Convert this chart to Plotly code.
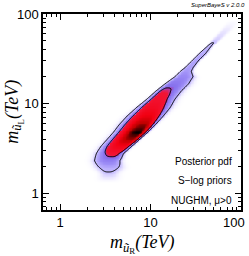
import numpy as np
import plotly.graph_objects as go

# ---- data (log10 of TeV) ----
# rows along the band: log10(m_uL), outer-contour left/right edge in log10(m_uR),
# position of the density maximum and relative density height
ridge_logy = [0.12, 0.22, 0.28, 0.36, 0.44, 0.52, 0.60, 0.68, 0.76, 0.86, 0.96, 1.05,
              1.14, 1.22, 1.30, 1.36, 1.40, 1.48, 1.56, 1.65, 1.72, 1.82, 1.95]
outer_left = [0.45, 0.47, 0.44, 0.38, 0.40, 0.45, 0.52, 0.59, 0.65, 0.74, 0.85, 0.96,
              1.06, 1.16, 1.27, 1.33, 1.38, 1.46, 1.54, 1.635, 1.70, 1.79, 1.90]
outer_right = [0.60, 0.60, 0.64, 0.66, 0.70, 0.79, 0.88, 0.97, 1.05, 1.14, 1.22, 1.27,
               1.34, 1.42, 1.47, 1.45, 1.47, 1.53, 1.61, 1.68, 1.76, 1.86, 1.98]
peak_logx = [0.52, 0.53, 0.54, 0.54, 0.60, 0.68, 0.78, 0.86, 0.92, 0.97, 1.01, 1.07,
             1.14, 1.24, 1.35, 1.39, 1.425, 1.495, 1.575, 1.66, 1.73, 1.82, 1.94]
ridge_amp = [0.0, 0.07, 0.11, 0.22, 0.36, 0.60, 0.88, 1.0, 0.90, 0.68, 0.50, 0.40,
             0.33, 0.26, 0.20, 0.16, 0.14, 0.13, 0.115, 0.095, 0.06, 0.035, 0.0]
contour_levels = [0.08, 0.30]          # outer (95%) and inner (68%) credible regions
profile_power = 3.0
major_ticks = [1, 10, 100]
minor_ticks = [0.7, 0.8, 0.9, 2, 3, 4, 5, 6, 7, 8, 9, 20, 30, 40, 50, 60, 70, 80, 90]
labels = ["Posterior pdf", "S\u2212log priors", "NUGHM, \u03bc>0"]

# ---- build the pdf grid ----
amp_s = np.array(ridge_amp)
k_out = (2 * np.log(np.maximum(amp_s, 0.104) / contour_levels[0])) ** (1 / profile_power)
wl_s = (np.array(peak_logx) - np.array(outer_left)) / k_out
wr_s = (np.array(outer_right) - np.array(peak_logx)) / k_out

lx = np.linspace(-0.19, 2.0, 260)
ly = np.linspace(-0.19, 2.0, 260)
p = np.interp(ly, ridge_logy, peak_logx)[:, None]
a = np.interp(ly, ridge_logy, ridge_amp)[:, None]
wl = np.interp(ly, ridge_logy, wl_s)[:, None]
wr = np.interp(ly, ridge_logy, wr_s)[:, None]
d = lx[None, :] - p
w = np.where(d < 0, wl, wr)
Z = a * np.exp(-0.5 * np.abs(d / w) ** profile_power)

X = 10 ** lx
Y = 10 ** ly

cscale = [
    [0.0, "#ffffff"],
    [0.02, "#f5f3ff"],
    [0.05, "#e0daff"],
    [0.08, "#c4baff"],
    [0.18, "#9c8cf6"],
    [0.28, "#8670ec"],
    [0.305, "#b03aa8"],
    [0.34, "#f21434"],
    [0.65, "#f20012"],
    [0.85, "#c00000"],
    [0.95, "#500000"],
    [1.0, "#000000"],
]

fig = go.Figure()
fig.add_trace(go.Heatmap(x=X, y=Y, z=Z, colorscale=cscale, zmin=0, zmax=1,
                         showscale=False, zsmooth="best", hoverinfo="skip"))
fig.add_trace(go.Contour(x=X, y=Y, z=Z, autocontour=False,
                         contours=dict(coloring="none", start=contour_levels[0],
                                       end=contour_levels[1],
                                       size=contour_levels[1] - contour_levels[0]),
                         line=dict(color="black", width=1), showscale=False,
                         hoverinfo="skip"))
# empty trace so the overlay axes (long major ticks) are drawn
fig.add_trace(go.Scatter(x=[], y=[], xaxis="x2", yaxis="y2", hoverinfo="skip"))

all_ticks = sorted(major_ticks + minor_ticks)
axis_common = dict(
    type="log", range=[-0.19, 2.0], ticks="inside", ticklen=3, tickwidth=1,
    tickcolor="black", showline=True, linecolor="black", linewidth=1.5,
    mirror="allticks", showgrid=False, zeroline=False, automargin=False,
    tickfont=dict(family="Liberation Sans", size=13, color="black"),
    tickmode="array", tickvals=all_ticks, layer="above traces",
)
# the last x label sits against the right page edge: drawn as an annotation below
x_text = [str(v) if v in major_ticks[:-1] else "" for v in all_ticks]
y_text = [str(v) if v in major_ticks else "" for v in all_ticks]
major_common = dict(
    type="log", range=[-0.19, 2.0], ticks="inside", ticklen=6, tickwidth=1,
    tickcolor="black", showline=False, mirror="allticks", showgrid=False,
    zeroline=False, automargin=False, showticklabels=False,
    tickmode="array", tickvals=major_ticks, layer="above traces",
)

ann = []
for i, t in enumerate(labels):
    ann.append(dict(text=t, xref="paper", yref="paper", x=0.965, y=[0.245, 0.148, 0.05][i],
                    xanchor="right", yanchor="middle", showarrow=False,
                    font=dict(family="Liberation Sans", size=10, color="black")))
ann.append(dict(text=str(major_ticks[-1]), xref="paper", yref="paper", x=1.03, y=-0.015,
                xanchor="right", yanchor="top", showarrow=False,
                font=dict(family="Liberation Sans", size=13, color="black")))
ann.append(dict(text="<i>m</i><sub><i>\u0169</i><sub>R</sub></sub><i>(TeV)</i>",
                xref="paper", yref="paper", x=0.5, y=-0.175, xanchor="center",
                yanchor="middle", showarrow=False,
                font=dict(family="Liberation Serif", size=18, color="black")))
ann.append(dict(text="<i>m</i><sub><i>\u0169</i><sub>L</sub></sub><i>(TeV)</i>",
                xref="paper", yref="paper", x=-0.148, y=0.5, xanchor="center",
                yanchor="middle", textangle=-90, showarrow=False,
                font=dict(family="Liberation Serif", size=18, color="black")))
ann.append(dict(text="<i>SuperBayeS v 2.0.0</i>", xref="paper", yref="paper",
                x=1.03, y=1.045, xanchor="right", yanchor="middle", showarrow=False,
                font=dict(family="Liberation Sans", size=6, color="black")))

fig.update_layout(width=249, height=256,
                  margin=dict(l=43, r=8, t=14, b=46, autoexpand=False),
                  paper_bgcolor="white", plot_bgcolor="white", showlegend=False,
                  xaxis=dict(axis_common, ticktext=x_text),
                  yaxis=dict(axis_common, ticktext=y_text),
                  xaxis2=dict(major_common, overlaying="x", anchor="y"),
                  yaxis2=dict(major_common, overlaying="y", anchor="x"),
                  annotations=ann)
fig.write_html("out.html", config={"displayModeBar": False},
               post_script="document.body.style.margin='0';document.body.style.padding='0';")
